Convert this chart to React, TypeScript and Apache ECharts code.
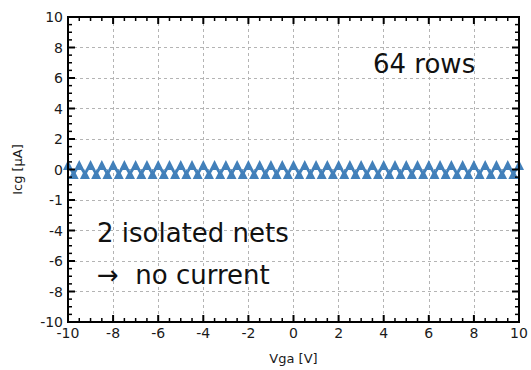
import React, { useEffect, useRef } from "react";
import * as echarts from "echarts";

const xValues = [
  -10, -9.75, -9.5, -9.25, -9, -8.75, -8.5, -8.25, -8, -7.75, -7.5, -7.25, -7, -6.75, -6.5, -6.25,
  -6, -5.75, -5.5, -5.25, -5, -4.75, -4.5, -4.25, -4, -3.75, -3.5, -3.25, -3, -2.75, -2.5, -2.25,
  -2, -1.75, -1.5, -1.25, -1, -0.75, -0.5, -0.25, 0, 0.25, 0.5, 0.75, 1, 1.25, 1.5, 1.75,
  2, 2.25, 2.5, 2.75, 3, 3.25, 3.5, 3.75, 4, 4.25, 4.5, 4.75, 5, 5.25, 5.5, 5.75,
  6, 6.25, 6.5, 6.75, 7, 7.25, 7.5, 7.75, 8, 8.25, 8.5, 8.75, 9, 9.25, 9.5, 9.75, 10,
];
const icgValues = [
  0.3, -0.3, 0.3, -0.3, 0.3, -0.3, 0.3, -0.3, 0.3, -0.3, 0.3, -0.3, 0.3, -0.3, 0.3, -0.3,
  0.3, -0.3, 0.3, -0.3, 0.3, -0.3, 0.3, -0.3, 0.3, -0.3, 0.3, -0.3, 0.3, -0.3, 0.3, -0.3,
  0.3, -0.3, 0.3, -0.3, 0.3, -0.3, 0.3, -0.3, 0.3, -0.3, 0.3, -0.3, 0.3, -0.3, 0.3, -0.3,
  0.3, -0.3, 0.3, -0.3, 0.3, -0.3, 0.3, -0.3, 0.3, -0.3, 0.3, -0.3, 0.3, -0.3, 0.3, -0.3,
  0.3, -0.3, 0.3, -0.3, 0.3, -0.3, 0.3, -0.3, 0.3, -0.3, 0.3, -0.3, 0.3, -0.3, 0.3, -0.3, 0.3,
];
const xTickValues = [-10, -8, -6, -4, -2, 0, 2, 4, 6, 8, 10];
const yTickValues = [-10, -8, -6, -4, -2, 0, 2, 4, 6, 8, 10];
const yTickLabels = ["-10", "-8", "-6", "-4", "-1", "0", "2", "4", "6", "8", "10"];
const minorStep = 0.5;
const xAxisName = "Vga [V]";
const yAxisName = "Icg [µA]";
const annotationTop = "64 rows";
const annotationLine1 = "2 isolated nets";
const annotationLine2 = "\u2192  no current";

const FONT = "DejaVu Sans";
const LINE_COLOR = "#4280ba";
const FRAME_COLOR = "#000";
const MAJOR_LEN = 7;
const MINOR_LEN = 4;

function mainOption(): any {
  const nameStyle = { fontFamily: FONT, fontSize: 13, color: "#1a1a1a" };
  const common = {
    type: "value",
    min: -10,
    max: 10,
    interval: 2,
    axisLine: { show: false },
    axisTick: { show: false },
    splitLine: { show: true, lineStyle: { color: "#b4b4b4", type: [3, 3], width: 1 } },
  };
  return {
    animation: false,
    grid: { left: 68, top: 17, width: 451, height: 306 },
    xAxis: {
      ...common,
      position: "bottom",
      name: xAxisName,
      nameLocation: "middle",
      nameGap: 30,
      nameTextStyle: nameStyle,
      axisLabel: { fontFamily: FONT, fontSize: 14, color: "#1a1a1a", margin: 4 },
    },
    yAxis: {
      ...common,
      position: "left",
      name: yAxisName,
      nameLocation: "middle",
      nameGap: 44,
      nameTextStyle: nameStyle,
      axisLabel: {
        fontFamily: FONT,
        fontSize: 14,
        color: "#1a1a1a",
        margin: 5,
        formatter: (v: number) => {
          const i = yTickValues.indexOf(v);
          return i >= 0 ? yTickLabels[i] : String(v);
        },
      },
    },
    series: [
      {
        type: "line",
        data: xValues.map((x, i) => [x, icgValues[i]]),
        symbol: "triangle",
        symbolSize: 10,
        itemStyle: { color: LINE_COLOR },
        lineStyle: { color: LINE_COLOR, width: 2.5 },
      },
    ],
  };
}

function buildGraphics(chart: echarts.ECharts): any[] {
  const px = (x: number, y: number) => chart.convertToPixel({ gridIndex: 0 }, [x, y]) as number[];
  const tl = px(-10, 10);
  const br = px(10, -10);
  const [L, T] = tl;
  const [R, B] = br;
  const els: any[] = [];
  const line = (x1: number, y1: number, x2: number, y2: number, w: number) =>
    els.push({
      type: "line",
      silent: true,
      z: 20,
      shape: { x1, y1, x2, y2 },
      style: { stroke: FRAME_COLOR, lineWidth: w },
    });
  // minor ticks
  for (let v = -10 + minorStep; v < 10; v += minorStep) {
    if (xTickValues.indexOf(v) < 0) {
      const x = px(v, 0)[0];
      line(x, B, x, B - MINOR_LEN, 1.5);
      line(x, T, x, T + MINOR_LEN, 1.5);
    }
    if (yTickValues.indexOf(v) < 0) {
      const y = px(0, v)[1];
      line(L, y, L + MINOR_LEN, y, 1.5);
      line(R, y, R - MINOR_LEN, y, 1.5);
    }
  }
  // major ticks
  xTickValues.forEach((v) => {
    const x = px(v, 0)[0];
    line(x, B, x, B - MAJOR_LEN, 2);
    line(x, T, x, T + MAJOR_LEN, 2);
  });
  yTickValues.forEach((v) => {
    const y = px(0, v)[1];
    line(L, y, L + MAJOR_LEN, y, 2);
    line(R, y, R - MAJOR_LEN, y, 2);
  });
  // frame
  els.push({
    type: "rect",
    silent: true,
    z: 21,
    shape: { x: L, y: T, width: R - L, height: B - T },
    style: { fill: "none", stroke: FRAME_COLOR, lineWidth: 2 },
  });
  // annotations
  els.push(
    {
      type: "text",
      left: 373,
      top: 51,
      z: 22,
      style: { text: annotationTop, fontFamily: FONT, fontSize: 26, fill: "#111" },
    },
    {
      type: "text",
      left: 97,
      top: 220,
      z: 22,
      style: { text: annotationLine1, fontFamily: FONT, fontSize: 26, fill: "#111" },
    },
    {
      type: "text",
      left: 97,
      top: 262,
      z: 22,
      style: { text: annotationLine2, fontFamily: FONT, fontSize: 26, fill: "#111" },
    }
  );
  return els;
}

export default function App() {
  const ref = useRef<HTMLDivElement>(null);
  useEffect(() => {
    if (!ref.current) return;
    const chart = echarts.init(ref.current, null, { renderer: "svg" });
    chart.setOption(mainOption());
    chart.setOption({ graphic: buildGraphics(chart) });
    return () => chart.dispose();
  }, []);
  return (
    <div
      ref={ref}
      style={{ position: "fixed", left: 0, top: 0, width: 531, height: 370, background: "#fff" }}
    />
  );
}
